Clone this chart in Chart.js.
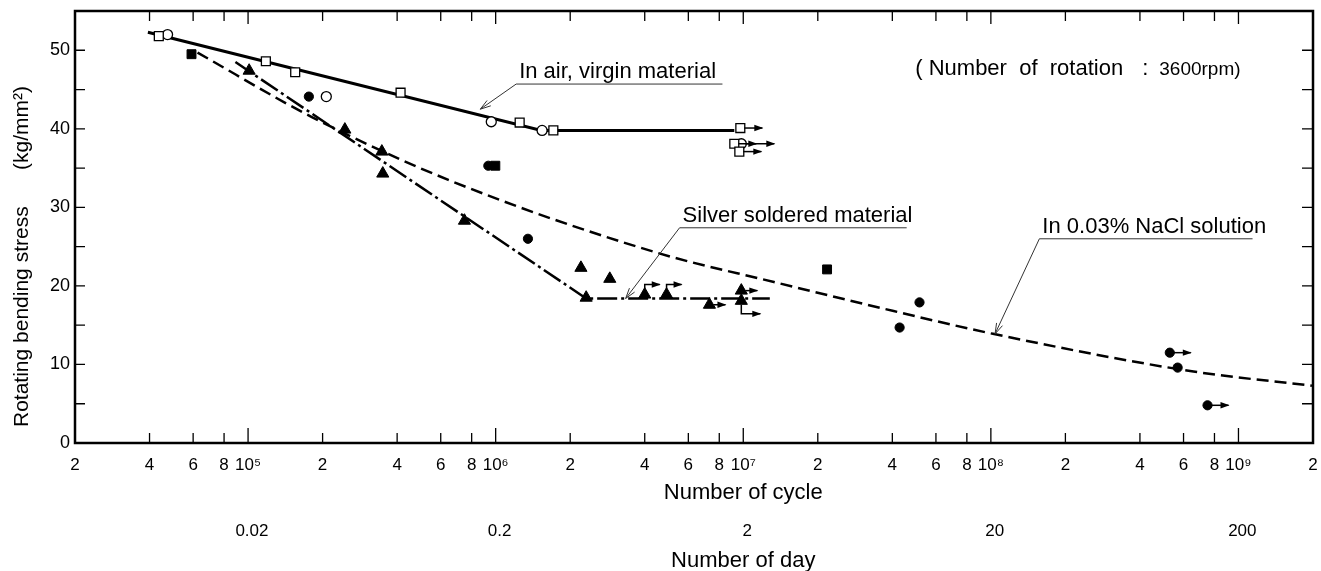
<!DOCTYPE html>
<html>
<head>
<meta charset="utf-8">
<title>Rotating bending fatigue</title>
<script src="https://cdn.jsdelivr.net/npm/chart.js@4.4.1/dist/chart.umd.min.js"></script>
<style>
  html, body { margin: 0; padding: 0; background: #fff; }
  canvas { display: block; }
</style>
</head>
<body>
<canvas id="sn-chart" width="1321" height="571"></canvas>
<script>
// axis ticks
const cycleTicks = [2e4, 4e4, 6e4, 8e4, 1e5, 2e5, 4e5, 6e5, 8e5, 1e6, 2e6, 4e6, 6e6, 8e6, 1e7,
  2e7, 4e7, 6e7, 8e7, 1e8, 2e8, 4e8, 6e8, 8e8, 1e9, 2e9];
const cycleTickLabels = ['2', '4', '6', '8', '10⁵', '2', '4', '6', '8', '10⁶', '2', '4', '6', '8', '10⁷',
  '2', '4', '6', '8', '10⁸', '2', '4', '6', '8', '10⁹', '2'];
const dayTicks = [0.02, 0.2, 2, 20, 200];
const dayTickLabels = ['0.02', '0.2', '2', '20', '200'];
const stressTicks = [0, 10, 20, 30, 40, 50];
const stressTickMarks = [5, 10, 15, 20, 25, 30, 35, 40, 45, 50];

const cyclesPerDay = 3600 * 60 * 24; // 3600 rpm

// in air, virgin material
const airSquareCycles = [4.36e4, 1.18e5, 1.55e5, 4.13e5, 1.25e6, 1.71e6, 9.73e6, 9.2e6, 9.64e6];
const airSquareStress = [51.8, 48.6, 47.2, 44.6, 40.8, 39.8, 40.1, 38.1, 37.1];
const airSquareRunout = ['', '', '', '', '', '', 'r', 'r', 'r'];
const airCircleCycles = [4.73e4, 2.07e5, 9.6e5, 1.54e6, 9.82e6];
const airCircleStress = [52.0, 44.1, 40.9, 39.8, 38.1];
const airCircleRunout = ['', '', '', '', 'R'];
const airLineCycles = [3.94e4, 1.53e6, 9.2e6];
const airLineStress = [52.3, 39.8, 39.8];

// silver soldered material
const silverCycles = [1.01e5, 2.46e5, 3.47e5, 3.5e5, 7.48e5, 2.21e6, 2.89e6, 2.32e6, 4.0e6, 4.9e6, 7.3e6, 9.82e6, 9.82e6];
const silverStress = [47.4, 39.9, 37.1, 34.3, 28.3, 22.3, 20.9, 18.5, 18.9, 18.9, 17.6, 19.4, 18.1];
const silverRunout = ['', '', '', '', '', '', '', '', 'u', 'u', 'r', 'r', 'd'];
const silverLineCycles = [8.89e4, 2.32e6, 1.28e7];
const silverLineStress = [48.5, 18.4, 18.4];

// in 0.03% NaCl solution
const naclCircleCycles = [1.76e5, 9.34e5, 1.35e6, 4.28e7, 5.15e7, 5.28e8, 5.68e8, 7.5e8];
const naclCircleStress = [44.1, 35.3, 26.0, 14.7, 17.9, 11.5, 9.6, 4.8];
const naclCircleRunout = ['', '', '', '', '', 'r', '', 'r'];
const naclSquareCycles = [5.91e4, 9.97e5, 2.18e7];
const naclSquareStress = [49.5, 35.3, 22.1];
const naclLineCycles = [6.25e4, 1.81e5, 6.44e5, 4.51e6, 1.33e7, 4.05e7, 1.02e8, 6.58e8, 1.98e9];
const naclLineStress = [49.7, 41.5, 33.5, 24.2, 20.5, 16.8, 13.9, 9.1, 7.3];

// labels with leader lines (positions in data units)
const callouts = [
  { text: 'In air, virgin material', from: [1.21e6, 45.7], to: 8.24e6, tip: [8.67e5, 42.5] },
  { text: 'Silver soldered material', from: [5.53e6, 27.4], to: 4.57e7, tip: [3.35e6, 18.4] },
  { text: 'In 0.03% NaCl solution', from: [1.57e8, 26.0], to: 1.14e9, tip: [1.04e8, 13.9] }
];

const FONT = "'Liberation Sans', Arial, sans-serif";

const pts = (xs, ys) => xs.map((x, i) => ({ x: x, y: ys[i] }));

function runoutArrow(ctx, kind, cx, cy, len) {
  let endX, endY;
  ctx.beginPath();
  if (kind === 'u') {
    ctx.moveTo(cx, cy - 6);
    ctx.lineTo(cx, cy - 10);
    endX = cx + 15; endY = cy - 10;
  } else if (kind === 'd') {
    ctx.moveTo(cx, cy + 4);
    ctx.lineTo(cx, cy + 13);
    endX = cx + 19; endY = cy + 13;
  } else {
    ctx.moveTo(cx + 4, cy);
    endX = cx + (kind === 'R' ? len * 1.5 : len); endY = cy;
  }
  ctx.lineTo(endX, endY);
  ctx.stroke();
  ctx.beginPath();
  ctx.moveTo(endX + 1, endY);
  ctx.lineTo(endX - 8, endY - 3.2);
  ctx.lineTo(endX - 8, endY + 3.2);
  ctx.closePath();
  ctx.fill();
}

const figureDecor = {
  id: 'figureDecor',
  afterDatasetsDraw(chart) {
    const ctx = chart.ctx;
    const area = chart.chartArea;
    const xs = chart.scales.x, ys = chart.scales.y;
    ctx.save();
    ctx.strokeStyle = '#000';
    ctx.fillStyle = '#000';

    // run-out arrows
    ctx.lineWidth = 1.5;
    chart.data.datasets.forEach((ds, i) => {
      if (!ds.runout) return;
      chart.getDatasetMeta(i).data.forEach((el, j) => {
        if (ds.runout[j]) runoutArrow(ctx, ds.runout[j], el.x, el.y, ds.runoutLength);
      });
    });

    // callouts
    callouts.forEach(c => {
      const x1 = xs.getPixelForValue(c.from[0]), y1 = ys.getPixelForValue(c.from[1]);
      const x2 = xs.getPixelForValue(c.to);
      const tx = xs.getPixelForValue(c.tip[0]), ty = ys.getPixelForValue(c.tip[1]);
      ctx.strokeStyle = '#333';
      ctx.lineWidth = 1;
      ctx.beginPath();
      ctx.moveTo(x2, y1);
      ctx.lineTo(x1, y1);
      ctx.lineTo(tx, ty);
      ctx.stroke();
      const ang = Math.atan2(y1 - ty, x1 - tx);
      ctx.beginPath();
      ctx.moveTo(tx + 11 * Math.cos(ang - 0.3), ty + 11 * Math.sin(ang - 0.3));
      ctx.lineTo(tx, ty);
      ctx.lineTo(tx + 11 * Math.cos(ang + 0.3), ty + 11 * Math.sin(ang + 0.3));
      ctx.stroke();
      ctx.font = '22px ' + FONT;
      ctx.textAlign = 'left';
      ctx.textBaseline = 'alphabetic';
      ctx.fillText(c.text, x1 + 3, y1 - 6);
    });

    // rotation note
    const rx = xs.getPixelForValue(4.95e7), ry = ys.getPixelForValue(46.9);
    ctx.font = '22px ' + FONT;
    ctx.fillText('( Number  of  rotation', rx, ry);
    ctx.fillText(':', rx + 227, ry);
    ctx.font = '19px ' + FONT;
    ctx.fillText('3600rpm)', rx + 244, ry);

    // frame
    ctx.strokeStyle = '#000';
    ctx.lineWidth = 2.5;
    ctx.strokeRect(area.left, area.top, area.right - area.left, area.bottom - area.top);

    // inward tick marks
    ctx.lineWidth = 1.3;
    ctx.beginPath();
    cycleTicks.forEach(v => {
      const px = xs.getPixelForValue(v);
      if (px <= area.left + 1 || px >= area.right - 1) return;
      const lg = Math.log10(v);
      const major = Math.abs(lg - Math.round(lg)) < 1e-9;
      ctx.moveTo(px, area.bottom);
      ctx.lineTo(px, area.bottom - (major ? 15 : 10));
      ctx.moveTo(px, area.top);
      ctx.lineTo(px, area.top + (major ? 13 : 10));
    });
    stressTickMarks.forEach(v => {
      const py = ys.getPixelForValue(v);
      ctx.moveTo(area.left, py);
      ctx.lineTo(area.left + 10, py);
      ctx.moveTo(area.right, py);
      ctx.lineTo(area.right - 11, py);
    });
    ctx.stroke();

    // axis titles
    ctx.font = '22px ' + FONT;
    ctx.textAlign = 'center';
    ctx.textBaseline = 'alphabetic';
    const titleX = xs.getPixelForValue(1e7);
    ctx.fillText('Number of cycle', titleX, area.bottom + 56);
    ctx.fillText('Number of day', titleX, area.bottom + 124);

    ctx.save();
    ctx.translate(28, area.bottom - 16);
    ctx.rotate(-Math.PI / 2);
    ctx.textAlign = 'left';
    ctx.font = '21px ' + FONT;
    ctx.fillText('Rotating bending stress', 0, 0);
    ctx.fillText('(kg/mm²)', 257, 0);
    ctx.restore();

    ctx.restore();
  }
};

const tickFont = { family: FONT, size: 17 };

new Chart(document.getElementById('sn-chart'), {
  type: 'scatter',
  data: {
    datasets: [
      {
        label: 'In air (square)', data: pts(airSquareCycles, airSquareStress), order: 0,
        pointStyle: 'rect', pointRadius: 6.3, backgroundColor: '#fff', borderColor: '#000', borderWidth: 1.3,
        runout: airSquareRunout, runoutLength: 22
      },
      {
        label: 'In air (circle)', data: pts(airCircleCycles, airCircleStress), order: 0,
        pointStyle: 'circle', pointRadius: 5, backgroundColor: '#fff', borderColor: '#000', borderWidth: 1.3,
        runout: airCircleRunout, runoutLength: 22
      },
      {
        label: 'Silver soldered', data: pts(silverCycles, silverStress), order: 0,
        pointStyle: 'triangle', pointRadius: 7, backgroundColor: '#000', borderColor: '#000', borderWidth: 1,
        runout: silverRunout, runoutLength: 16
      },
      {
        label: 'NaCl (circle)', data: pts(naclCircleCycles, naclCircleStress), order: 0,
        pointStyle: 'circle', pointRadius: 4.6, backgroundColor: '#000', borderColor: '#000', borderWidth: 1,
        runout: naclCircleRunout, runoutLength: 21
      },
      {
        label: 'NaCl (square)', data: pts(naclSquareCycles, naclSquareStress), order: 0,
        pointStyle: 'rect', pointRadius: 6.3, backgroundColor: '#000', borderColor: '#000', borderWidth: 1
      },
      {
        label: 'In air line', data: pts(airLineCycles, airLineStress), order: 1,
        showLine: true, pointRadius: 0, borderColor: '#000', borderWidth: 3
      },
      {
        label: 'Silver line', data: pts(silverLineCycles, silverLineStress), order: 1,
        showLine: true, pointRadius: 0, borderColor: '#000', borderWidth: 2.5, borderDash: [20, 4, 3, 4]
      },
      {
        label: 'NaCl line', data: pts(naclLineCycles, naclLineStress), order: 1,
        showLine: true, pointRadius: 0, borderColor: '#000', borderWidth: 2.5, borderDash: [12, 6],
        cubicInterpolationMode: 'monotone'
      }
    ]
  },
  options: {
    responsive: false,
    devicePixelRatio: 1,
    animation: false,
    layout: { padding: { top: 11, right: 4, left: 0, bottom: 0 } },
    plugins: {
      legend: { display: false },
      tooltip: { enabled: false }
    },
    scales: {
      x: {
        type: 'logarithmic',
        position: 'bottom',
        min: 2e4,
        max: 2e9,
        grid: { display: false, drawTicks: false },
        border: { display: false },
        afterBuildTicks: scale => { scale.ticks = cycleTicks.map(v => ({ value: v })); },
        ticks: {
          autoSkip: false, maxRotation: 0, minRotation: 0, padding: 12, color: '#000', font: tickFont,
          callback: (v, i) => cycleTickLabels[i]
        },
        afterFit: scale => { scale.height = 70; scale.paddingLeft = 0; scale.paddingRight = 0; }
      },
      xDay: {
        type: 'logarithmic',
        position: 'bottom',
        min: 2e4 / cyclesPerDay,
        max: 2e9 / cyclesPerDay,
        grid: { display: false, drawTicks: false },
        border: { display: false },
        afterBuildTicks: scale => { scale.ticks = dayTicks.map(v => ({ value: v })); },
        ticks: {
          autoSkip: false, maxRotation: 0, minRotation: 0, padding: 8, color: '#000', font: tickFont,
          callback: (v, i) => dayTickLabels[i]
        },
        afterFit: scale => { scale.height = 58; scale.paddingLeft = 0; scale.paddingRight = 0; }
      },
      y: {
        type: 'linear',
        min: 0,
        max: 55,
        grid: { display: false, drawTicks: false },
        border: { display: false },
        afterBuildTicks: scale => { scale.ticks = stressTicks.map(v => ({ value: v })); },
        ticks: { padding: 5, color: '#000', font: { family: FONT, size: 18 } },
        afterFit: scale => { scale.width = 75; scale.paddingTop = 0; scale.paddingBottom = 0; }
      }
    }
  },
  plugins: [figureDecor]
});
</script>
</body>
</html>
